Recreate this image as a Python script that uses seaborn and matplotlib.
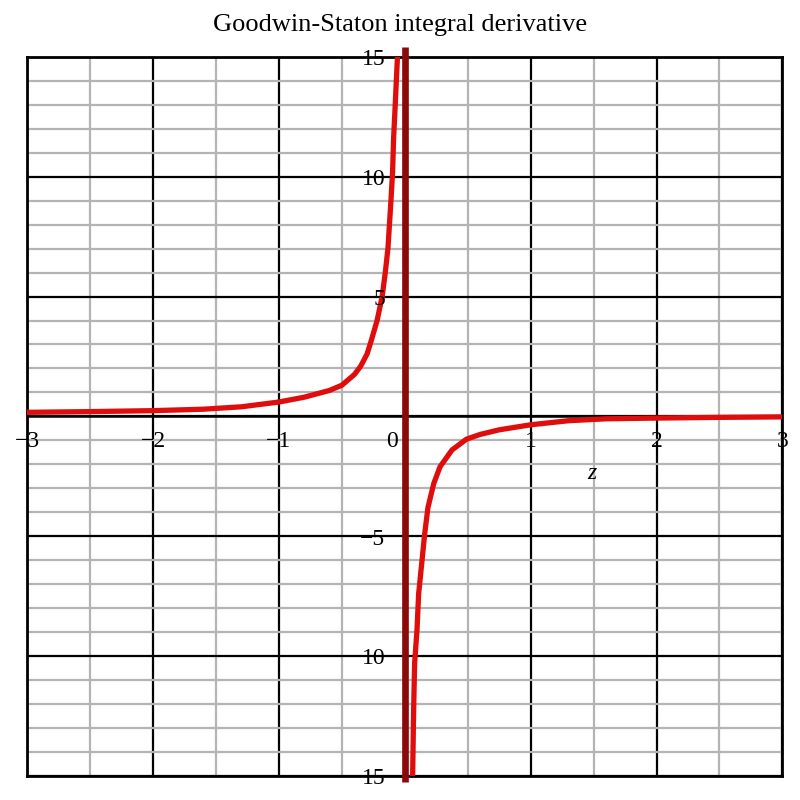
import matplotlib
matplotlib.use("Agg")
import matplotlib.pyplot as plt
import seaborn as sns
import pandas as pd

# values
left_x = [-3.0, -2.5, -2.0, -1.6, -1.3, -1.0, -0.8, -0.6, -0.5, -0.4, -0.35,
          -0.3, -0.27, -0.22, -0.18, -0.155, -0.134, -0.11, -0.097, -0.089,
          -0.076, -0.062, -0.057]
left_y = [0.17, 0.2, 0.24, 0.3, 0.4, 0.6, 0.8, 1.08, 1.3, 1.75, 2.1,
          2.6, 3.1, 4.0, 5.0, 6.0, 7.0, 9.0, 10.2, 11.6,
          13.0, 14.6, 15.1]
right_x = [0.062, 0.07, 0.078, 0.097, 0.11, 0.137, 0.158, 0.184, 0.23, 0.28,
           0.375, 0.49, 0.6, 0.75, 1.0, 1.3, 1.6, 2.0, 2.5, 3.0]
right_y = [-15.1, -12.3, -10.3, -8.9, -7.4, -6.0, -4.9, -3.8, -2.8, -2.1,
           -1.4, -0.95, -0.75, -0.56, -0.35, -0.18, -0.1, -0.07, -0.04, -0.02]
asymptote_x = 0.0

x_ticks = [-3, -2, -1, 0, 1, 2, 3]
x_tick_labels = ["\u22123", "\u22122", "\u22121", "0", "1", "2", "3"]
y_ticks = [15, 10, 5, -5, -10, -15]
y_tick_labels = ["15", "10", "5", "\u22125", "10", "15"]

title = "Goodwin-Staton integral derivative"

sns.set_style("white")
plt.rcParams["font.family"] = ["Liberation Serif", "DejaVu Serif"]

df_left = pd.DataFrame({"z": left_x, "value": left_y})
df_right = pd.DataFrame({"z": right_x, "value": right_y})

fig = plt.figure(figsize=(8, 8), dpi=100)
ax = fig.add_axes([0.034, 0.03, 0.944, 0.899])

# grid: gray every 0.5 / 1, black every 1 / 5
ax.set_xlim(-3, 3)
ax.set_ylim(-15, 15)
ax.set_xticks([-3, -2, -1, 0, 1, 2, 3])
ax.set_xticks([-2.5, -1.5, -0.5, 0.5, 1.5, 2.5], minor=True)
ax.set_yticks([-15, -10, -5, 0, 5, 10, 15])
ax.set_yticks([v for v in range(-14, 15) if v % 5 != 0], minor=True)
ax.grid(which="minor", color="#b4b4b4", linewidth=1.6)
ax.grid(which="major", color="black", linewidth=1.6)
ax.tick_params(which="both", length=0, labelbottom=False, labelleft=False)
ax.set_axisbelow(True)
for sp in ax.spines.values():
    sp.set_color("black")
    sp.set_linewidth(2)

# axes through the origin
ax.axhline(0, color="black", linewidth=1.8, zorder=1)

ax.axvline(asymptote_x, ymin=-0.008, ymax=1.013, color="#8a0a0a",
           linewidth=4.8, clip_on=False, zorder=3, solid_capstyle="butt")

sns.lineplot(data=df_left, x="z", y="value", sort=False, estimator=None,
             color="#e00d0d", linewidth=3.8, ax=ax, zorder=4)
sns.lineplot(data=df_right, x="z", y="value", sort=False, estimator=None,
             color="#e00d0d", linewidth=3.8, ax=ax, zorder=4)
ax.set_xlabel("")
ax.set_ylabel("")

for xv, lbl in zip(x_ticks, x_tick_labels):
    dx = -9 if xv == 0 else 0
    ax.annotate(lbl, (xv, 0), xytext=(dx, -18), textcoords="offset points",
                ha="center", va="center", fontsize=17, color="black",
                annotation_clip=False, zorder=5)

for yv, lbl in zip(y_ticks, y_tick_labels):
    ax.annotate(lbl, (0, yv), xytext=(-14, -2), textcoords="offset points",
                ha="right", va="center", fontsize=17, color="black",
                annotation_clip=False, zorder=5)

ax.text(1.49, -2.4, "z", fontsize=17, style="italic", ha="center",
        va="center", color="black")

fig.suptitle(title, y=0.969, va="center", fontsize=19, color="black")

fig.savefig("out.png", dpi=100, facecolor="white")
